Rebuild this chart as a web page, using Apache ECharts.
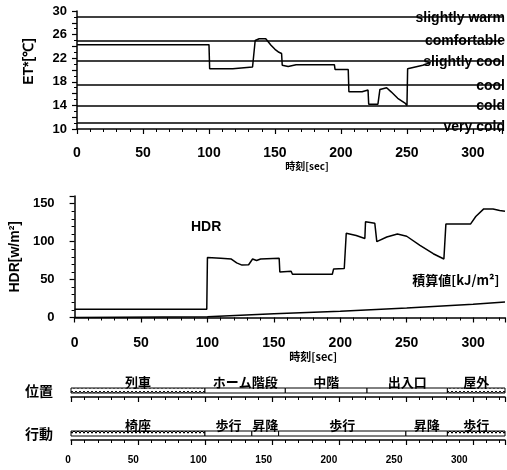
<!DOCTYPE html>
<html>
<head>
<meta charset="utf-8">
<script src="https://cdn.jsdelivr.net/npm/echarts@6/dist/echarts.min.js"></script>
<style>html,body{margin:0;padding:0;background:#fff}#c{width:507px;height:470px}</style>
</head>
<body>
<div id="c"></div>
<script>
// ---------- data ----------
const etTime = [0, 100, 100.5, 118, 119, 133, 135, 138, 143, 147, 150, 153, 155, 155.5, 160, 166, 195, 195.5, 205.5, 206, 216, 216.5, 220.5, 221, 228, 229.5, 234.6, 238, 243, 248.5, 250, 250.5, 262, 268];
const etValue = [24.3, 24.3, 20.2, 20.2, 20.4, 20.5, 25.0, 25.3, 25.3, 24.2, 23.5, 23.0, 22.8, 20.8, 20.6, 20.9, 20.9, 20.1, 20.1, 16.3, 16.3, 16.6, 16.6, 14.2, 14.2, 16.7, 17.0, 16.3, 15.2, 14.4, 14.0, 20.2, 20.8, 21.3];
const levelValues = [29, 25, 21.5, 17.5, 14, 11];
const levelNames = ['slightly warm', 'comfortable', 'slightly cool', 'cool', 'cold', 'very cold'];

const hdrTime = [0, 99.5, 100, 110, 118, 122, 126, 131, 134, 137, 140, 154, 154.5, 163, 164, 194, 195, 203, 204.5, 212, 218.5, 219, 226, 227.5, 235, 243, 250, 260, 270, 278, 279.5, 298, 302, 308, 315, 320, 324];
const hdrValue = [11, 11, 79, 78, 77, 72, 69, 69.5, 77, 75, 77, 78, 60, 61, 57, 57, 64, 64.5, 111, 108, 104, 126, 124, 100, 106, 110, 107, 95, 84, 77, 123, 123, 133, 143, 143, 141, 140];
const cumTime = [0, 100, 150, 200, 250, 300, 324];
const cumValue = [0, 1.1, 4.9, 8.1, 12.6, 17.5, 20.5];

const locStart = [0, 100, 160, 221, 281];
const locEnd = [100, 160, 221, 281, 324];
const locName = ['列車', 'ホーム階段', '中階', '出入口', '屋外'];
const locHatch = [1, 0, 0, 0, 1];

const actStart = [0, 100, 135, 155, 250, 281];
const actEnd = [100, 135, 155, 250, 281, 324];
const actName = ['椅座', '歩行', '昇降', '歩行', '昇降', '歩行'];
const actHatch = [1, 0, 0, 0, 0, 1];

const xTickLabels = [0, 50, 100, 150, 200, 250, 300];

// ---------- helpers ----------
const zip = (a, b) => a.map((v, i) => [v, b[i]]);
function makePattern(kind) {
  const cv = document.createElement('canvas');
  cv.width = 4; cv.height = 5;
  const g = cv.getContext('2d');
  g.fillStyle = '#fff'; g.fillRect(0, 0, 4, 5);
  g.strokeStyle = '#000'; g.lineWidth = 1;
  g.beginPath();
  if (kind === 1) { g.moveTo(0, 1); g.lineTo(2, 3.5); g.lineTo(4, 1); }
  else { g.moveTo(0, 3.5); g.lineTo(1, 1.5); g.lineTo(3, 1.5); g.lineTo(4, 3.5); }
  g.stroke();
  return cv;
}
const pat1 = makePattern(1), pat2 = makePattern(2);

const F = '"Liberation Sans", Arial, sans-serif';
const CJK = '"Noto Sans CJK JP", sans-serif';
const black = '#000';

function rowRender(pat, names) {
  return function (params, api) {
    const s = api.coord([api.value(0), 0]);
    const e = api.coord([api.value(1), 0]);
    const h = api.size([0, 1])[1];
    const bottom = s[1] + h / 2;
    const top = bottom - 9;
    const hatched = api.value(2) === 1;
    return {
      type: 'group',
      children: [
        { type: 'rect', shape: { x: s[0], y: top, width: e[0] - s[0], height: 5 },
          style: { fill: hatched ? { image: pat, repeat: 'repeat' } : '#fff', stroke: black, lineWidth: 1 } },
        { type: 'text', style: { text: names[params.dataIndex], x: (s[0] + e[0]) / 2, y: top + 1, align: 'center', verticalAlign: 'bottom',
          font: 'bold 13px ' + CJK, fill: black } }
      ]
    };
  };
}

function xAxisBase(grid, max) {
  return {
    type: 'value', gridIndex: grid, min: 0, max: max, interval: 50,
    axisLine: { show: true, onZero: false, lineStyle: { color: black, width: 1.5 } },
    axisTick: { show: true, length: 5, lineStyle: { color: black, width: 1.2 } },
    minorTick: { show: true, splitNumber: 5, length: 3, lineStyle: { color: black, width: 1 } },
    splitLine: { show: false },
    axisLabel: { show: false }
  };
}

const option = {
  animation: false,
  backgroundColor: '#fff',
  grid: [
    { left: 77, right: 5, top: 11, height: 118 },
    { left: 72, right: 2, top: 196, height: 121.5 },
    { left: 71, right: 2, top: 385, height: 12 },
    { left: 71, right: 2, top: 428, height: 12 },
    { left: 68, right: 2, top: 440, height: 1 }
  ],
  xAxis: [
    Object.assign(xAxisBase(0, 322), {
      axisLabel: { show: true, margin: 17, color: black, fontFamily: F, fontWeight: 'bold', fontSize: 14, showMaxLabel: false },
      name: '時刻[sec]', nameLocation: 'middle', nameGap: 32,
      nameTextStyle: { color: black, fontFamily: CJK, fontWeight: 'bold', fontSize: 10, padding: [0, 0, 0, 35] }
    }),
    Object.assign(xAxisBase(1, 324), {
      axisLabel: { show: true, margin: 19, color: black, fontFamily: F, fontWeight: 'bold', fontSize: 14, showMaxLabel: false },
      name: '時刻[sec]', nameLocation: 'middle', nameGap: 32,
      nameTextStyle: { color: black, fontFamily: CJK, fontWeight: 'bold', fontSize: 11, padding: [0, 0, 0, 47] }
    }),
    xAxisBase(2, 324),
    xAxisBase(3, 324),
    {
      type: 'value', gridIndex: 4, min: 0, max: 335, interval: 50,
      axisLine: { show: false }, axisTick: { show: false }, splitLine: { show: false },
      axisLabel: { show: true, margin: 14, color: black, fontFamily: F, fontWeight: 'bold', fontSize: 10, showMaxLabel: false,
        formatter: v => (xTickLabels.indexOf(v) >= 0 ? String(v) : '') }
    }
  ],
  yAxis: [
    {
      type: 'value', gridIndex: 0, min: 10, max: 30, interval: 2,
      axisLine: { show: true, lineStyle: { color: black, width: 1.5 } },
      axisTick: { show: true, length: 5, lineStyle: { color: black, width: 1.2 } },
      minorTick: { show: true, splitNumber: 2, length: 3, lineStyle: { color: black } },
      splitLine: { show: false },
      axisLabel: { margin: 10, color: black, fontFamily: F, fontWeight: 'bold', fontSize: 13,
        formatter: v => ((v - 10) % 4 === 0 ? String(v) : '') },
      name: 'ET*[℃]', nameLocation: 'middle', nameRotate: 90, nameGap: 41,
      nameTextStyle: { color: black, fontFamily: F, fontWeight: 'bold', fontSize: 14, padding: [0, 0, 0, 17] }
    },
    {
      type: 'value', gridIndex: 1, min: 0, max: 160, interval: 50,
      axisLine: { show: true, lineStyle: { color: black, width: 1.5 } },
      axisTick: { show: true, length: 5, lineStyle: { color: black, width: 1.2 } },
      minorTick: { show: true, splitNumber: 5, length: 3, lineStyle: { color: black } },
      splitLine: { show: false },
      axisLabel: { margin: 20, color: black, fontFamily: F, fontWeight: 'bold', fontSize: 13, showMaxLabel: false,
        formatter: v => (v % 50 === 0 ? String(v) : '') },
      name: 'HDR[w/m²]', nameLocation: 'middle', nameRotate: 90, nameGap: 46,
      nameTextStyle: { color: black, fontFamily: F, fontWeight: 'bold', fontSize: 14 }
    },
    {
      type: 'category', gridIndex: 2, data: ['位置'],
      axisLine: { show: false }, axisTick: { show: false },
      axisLabel: { margin: 18, color: black, fontFamily: CJK, fontWeight: 'bold', fontSize: 14, padding: [4, 0, 0, 0] }
    },
    {
      type: 'category', gridIndex: 3, data: ['行動'],
      axisLine: { show: false }, axisTick: { show: false },
      axisLabel: { margin: 18, color: black, fontFamily: CJK, fontWeight: 'bold', fontSize: 14, padding: [6, 0, 0, 0] }
    },
    { type: 'value', gridIndex: 4, show: false }
  ],
  series: [
    {
      type: 'line', xAxisIndex: 0, yAxisIndex: 0, data: zip(etTime, etValue),
      showSymbol: false, lineStyle: { color: black, width: 1.5 }, z: 5,
      markLine: {
        silent: true, symbol: 'none',
        lineStyle: { color: black, width: 1.5, type: 'solid' },
        label: { show: true, position: 'insideEndTop', formatter: '{b}', distance: [-3, -8],
          color: black, fontFamily: F, fontWeight: 'bold', fontSize: 14 },
        data: levelValues.map((v, i) => (i === levelValues.length - 1
          ? { yAxis: v, name: levelNames[i], label: { distance: [-3, -11] } }
          : { yAxis: v, name: levelNames[i] }))
      }
    },
    {
      type: 'line', xAxisIndex: 1, yAxisIndex: 1, data: zip(hdrTime, hdrValue),
      showSymbol: false, lineStyle: { color: black, width: 1.5 },
      markPoint: {
        silent: true, symbol: 'circle', symbolSize: 1, itemStyle: { color: 'rgba(0,0,0,0)' },
        label: { show: true, position: 'inside', formatter: 'HDR', color: black, fontFamily: F, fontWeight: 'bold', fontSize: 14 },
        data: [{ coord: [99, 119] }]
      }
    },
    {
      type: 'line', xAxisIndex: 1, yAxisIndex: 1, data: zip(cumTime, cumValue),
      showSymbol: false, lineStyle: { color: black, width: 1.5 },
      markPoint: {
        silent: true, symbol: 'circle', symbolSize: 1, itemStyle: { color: 'rgba(0,0,0,0)' },
        label: { show: true, position: 'inside', formatter: '積算値[kJ/m²]', color: black, fontFamily: CJK, fontWeight: 'bold', fontSize: 13 },
        data: [{ coord: [287, 49] }]
      }
    },
    {
      type: 'custom', xAxisIndex: 2, yAxisIndex: 2,
      renderItem: rowRender(pat1, locName),
      encode: { x: [0, 1] },
      data: locStart.map((s, i) => [s, locEnd[i], locHatch[i]])
    },
    {
      type: 'custom', xAxisIndex: 3, yAxisIndex: 3,
      renderItem: rowRender(pat2, actName),
      encode: { x: [0, 1] },
      data: actStart.map((s, i) => [s, actEnd[i], actHatch[i]])
    }
  ]
};

const chart = echarts.init(document.getElementById('c'), null, { renderer: 'canvas' });
chart.setOption(option);
</script>
</body>
</html>
